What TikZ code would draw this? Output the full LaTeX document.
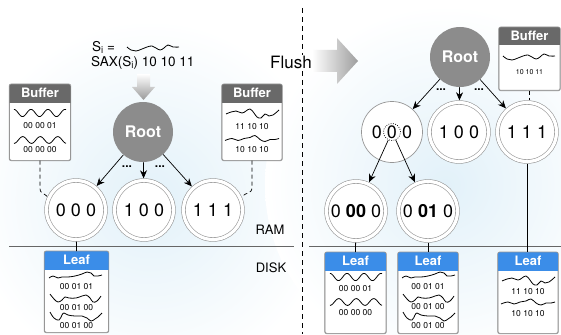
\documentclass[tikz,border=0pt]{standalone}
\usepackage{fontspec}
\setmainfont{TeX Gyre Heros}
\usetikzlibrary{arrows.meta}
\definecolor{bufgray}{RGB}{105,105,105}
\definecolor{leafblue}{RGB}{59,141,232}
\definecolor{rootgray}{RGB}{140,140,140}
\definecolor{rimgray}{RGB}{150,150,150}
\definecolor{glow}{RGB}{226,241,249}
\tikzset{
  dcirc/.style={circle, draw=rimgray, line width=0.6pt, double=white, double distance=3.2pt,
    fill=white, minimum size=59pt, inner sep=0pt, outer sep=2.2pt, font=\fontsize{18}{18}\selectfont},
  scirc/.style={circle, draw=rimgray, line width=0.7pt, fill=white, minimum size=61pt,
    inner sep=0pt, font=\fontsize{18}{18}\selectfont},
  rootn/.style={circle, fill=rootgray, minimum size=60pt, inner sep=0pt, text=white,
    font=\bfseries\fontsize{16}{16}\selectfont},
  arr/.style={-{Stealth[length=8pt,width=7pt]}, line width=0.7pt},
  panel/.style={draw=rimgray, line width=0.7pt, fill=white, rounded corners=2pt, inner sep=0pt},
  wav/.style={line width=0.8pt, black},
  num/.style={font=\fontsize{8.5}{9}\selectfont, inner sep=0pt},
  ttl/.style={text=white, font=\bfseries\fontsize{13}{13}\selectfont, inner sep=0pt},
  sepline/.style={dash pattern=on 5pt off 4pt, line width=0.8pt},
  conn/.style={dash pattern=on 4pt off 3pt, line width=0.7pt},
  ground/.style={draw=black!60, line width=1pt},
  lbl/.style={font=\fontsize{13}{13}\selectfont, inner sep=0pt},
  dotsn/.style={font=\bfseries\fontsize{12}{12}\selectfont, inner sep=0pt},
  link/.style={line width=0.8pt},
}
% panel: name, centre x, top y, width, height, colour, title
\newcommand\panelbox[7]{%
  \node[panel, minimum width=#4pt, minimum height=#5pt, anchor=north] (#1) at (#2,#3) {};
  \begin{scope}
    \clip[rounded corners=2pt] (#1.north west) rectangle (#1.south east);
    \fill[#6] (#1.north west) rectangle ([yshift=-18.5pt]#1.north east);
  \end{scope}
  \draw[rimgray, line width=0.7pt, rounded corners=2pt] (#1.north west) rectangle (#1.south east);
  \node[ttl] (#1t) at ([yshift=-9.3pt]#1.north) {#7};
}
\newcommand\wsinA[1]{\draw[wav,shift={(#1)}] plot[domain=0:52,samples=60,smooth] (\x,{-3.6*cos(\x/17*360)});}
\newcommand\wsinB[1]{\draw[wav,shift={(#1)}] plot[domain=0:52,samples=60,smooth] (\x,{3.4*cos(\x/17.5*360)});}
\newcommand\wS[1]{\draw[wav,shift={(#1)}] plot[smooth,tension=0.7] coordinates {(0,-1) (4,2) (9,3) (15,1) (20,-1) (25,-2) (29,0) (33,2) (37,0) (41,-3) (46,-1) (52,-1)};}
\newcommand\wLa[1]{\draw[wav,shift={(#1)}] plot[smooth,tension=0.7] coordinates {(0,1) (4,-1) (9,1) (13,0) (19,0) (26,-1) (33,-3) (38,-5) (42,-4) (45,-1) (49,-1) (53,-2)};}
\newcommand\wLb[1]{\draw[wav,shift={(#1)}] plot[smooth,tension=0.7] coordinates {(0,-5) (4,0) (8,3) (12,1) (15,-2) (19,-1) (26,-1) (32,-3) (36,-4) (40,-1) (43,3) (47,2) (51,-3)};}
\newcommand\wLc[1]{\draw[wav,shift={(#1)}] plot[smooth,tension=0.7] coordinates {(0,-5) (4,1) (9,3) (12,-2) (14,-4) (18,-2) (25,-1) (32,-1) (37,1) (41,4) (45,2) (48,0) (52,-4)};}
\newcommand\wA[1]{\draw[wav,shift={(#1)}] plot[smooth,tension=0.7] coordinates {(0,1) (5,-1) (10,-2) (16,0) (20,-2) (24,-4) (28,0) (31,4) (35,5) (39,1) (43,3) (47,2) (53,-3)};}
\newcommand\wB[1]{\draw[wav,shift={(#1)}] plot[smooth,tension=0.7] coordinates {(0,1) (7,-1) (13,1) (19,-1) (25,-2) (30,-4) (35,0) (40,2) (45,0) (50,0) (54,-1)};}
\newcommand\subi{\raisebox{-2pt}{\fontsize{9.5}{9.5}\selectfont i}}

\begin{document}
\begin{tikzpicture}[x=1pt,y=-1pt]
\useasboundingbox (0,0) rectangle (561,334);
% background glow
\begin{scope}
  \clip (0,0) rectangle (561,334);
  \fill[white] (0,0) rectangle (561,334);
  \shade[inner color=glow, outer color=white] (150,200) circle (180);
  \shade[inner color=glow, outer color=white] (445,185) circle (180);
\end{scope}

% separators
\coordinate (sepT) at (302,8);
\coordinate (sepB) at (302,334);
\draw[sepline] (sepT) -- (sepB);
\coordinate (gl1) at (9,246);
\coordinate (gl2) at (294,246);
\coordinate (gr1) at (309,246);
\coordinate (gr2) at (561,246);
\draw[ground] (gl1) -- (gl2);
\draw[ground] (gr1) -- (gr2);
\node[lbl] (ram) at (270,230) {RAM};
\node[lbl] (disk) at (271,268) {DISK};

% Flush
\node[font=\fontsize{17}{17}\selectfont, fill=white, inner sep=1pt] (flush) at (291,62) {Flush};
\shade[left color=white, right color=black!38] (312,50) -- (337,50) -- (337,38) -- (358,61) -- (337,84) -- (337,72) -- (312,72) -- cycle;

% ---------------- left half ----------------
\node[lbl, anchor=west, font=\fontsize{13.5}{13.5}\selectfont] (si) at (92,47) {S\subi\ =};
\wS{127,48}
\node[lbl, anchor=west, font=\fontsize{13.5}{13.5}\selectfont] (sax) at (91,63) {SAX(S\subi) 10 10 11};
\shade[top color=white, bottom color=black!40] (137,74) -- (150,74) -- (150,87) -- (155,87) -- (143.5,100) -- (132,87) -- (137,87) -- cycle;

\node[rootn] (rootL) at (143,132) {Root};
\node[dcirc] (c000) at (76,210) {0 0 0};
\node[dcirc] (c100) at (144,210) {1 0 0};
\node[dcirc] (c111) at (213,210) {1 1 1};
\draw[arr] (rootL) -- (c000);
\draw[arr] (rootL) -- (c100);
\draw[arr] (rootL) -- (c111);
\node[dotsn] (dl1) at (127,167) {...};
\node[dotsn] (dl2) at (160,167) {...};

\panelbox{bufL}{40}{84}{61}{76}{bufgray}{Buffer}
\wsinA{14,113}
\node[num] (bl1) at (40,125.5) {00 00 01};
\wsinB{14,140}
\node[num] (bl2) at (40,150) {00 00 00};

\panelbox{bufR}{252}{84}{60}{76}{bufgray}{Buffer}
\wA{226,113}
\node[num] (br1) at (252,127) {11 10 10};
\wB{225,139.5}
\node[num] (br2) at (252,150) {10 10 10};

\draw[conn] (bufL.south) -- ++(0,26) .. controls +(0,8) and +(-5,-5) .. (c000.155);
\draw[conn] (bufR.south) -- ++(0,26) .. controls +(0,8) and +(5,-5) .. (c111.25);

\panelbox{leafL}{76.5}{251}{64}{81}{leafblue}{Leaf}
\draw[link] (c000) -- (leafL.north);
\wLa{49,277}
\node[num] (ll1) at (76.5,287) {00 01 01};
\wLb{50,299}
\node[num] (ll2) at (76.5,307.5) {00 01 00};
\wLc{50,317}
\node[num] (ll3) at (76.5,325.5) {00 01 00};

% ---------------- right half ----------------
\node[rootn] (rootR) at (460,57) {Root};
\node[scirc] (cR000) at (392,132) {0 0 0};
\node[dcirc] (cR100) at (459,132) {1 0 0};
\node[dcirc] (cR111) at (527,132) {1 1 1};
\node[circle, draw, dash pattern=on 0.8pt off 1.5pt, line width=0.7pt, minimum size=17pt, inner sep=0pt] (sel) at (cR000.center) {};
\draw[arr] (rootR) -- (cR000);
\draw[arr] (rootR) -- (cR100);
\draw[arr] (rootR) -- (cR111);
\node[dotsn] (dr1) at (441,90) {...};
\node[dotsn] (dr2) at (479,90) {...};

\panelbox{bufRR}{529.5}{27}{61}{63}{bufgray}{Buffer}
\wS{503,57}
\node[num, font=\fontsize{7}{8}\selectfont] (brr) at (529.5,72) {10 10 11};
\draw[conn] (bufRR.south) -- (bufRR.south |- cR111.north);

\node[dcirc] (c0000) at (356,211) {0 \textbf{00} 0};
\node[dcirc] (c0010) at (428,211) {0 \textbf{01} 0};
\draw[arr] (sel.245) -- (c0000);
\draw[arr] (sel.295) -- (c0010);

\panelbox{leafA}{355.5}{252}{61}{81}{leafblue}{Leaf}
\draw[link] (c0000) -- (leafA.north);
\wsinA{330,277}
\node[num] (la1) at (355.5,289) {00 00 01};
\wsinB{330,302}
\node[num] (la2) at (355.5,313) {00 00 00};

\panelbox{leafB}{428}{252}{60}{81}{leafblue}{Leaf}
\draw[link] (c0010) -- (leafB.north);
\wLa{402,277}
\node[num] (lb1) at (428,287) {00 01 01};
\wLb{403,299}
\node[num] (lb2) at (428,307) {00 01 00};
\wLc{403,317}
\node[num] (lb3) at (428,326) {00 01 00};

\panelbox{leafC}{528}{252}{60}{81}{leafblue}{Leaf}
\draw[link] (cR111.south) -- (cR111.south |- leafC.north);
\wA{502,280}
\node[num] (lc1) at (528,292) {11 10 10};
\wB{501,303}
\node[num] (lc2) at (528,314) {10 10 10};
\end{tikzpicture}
\end{document}
